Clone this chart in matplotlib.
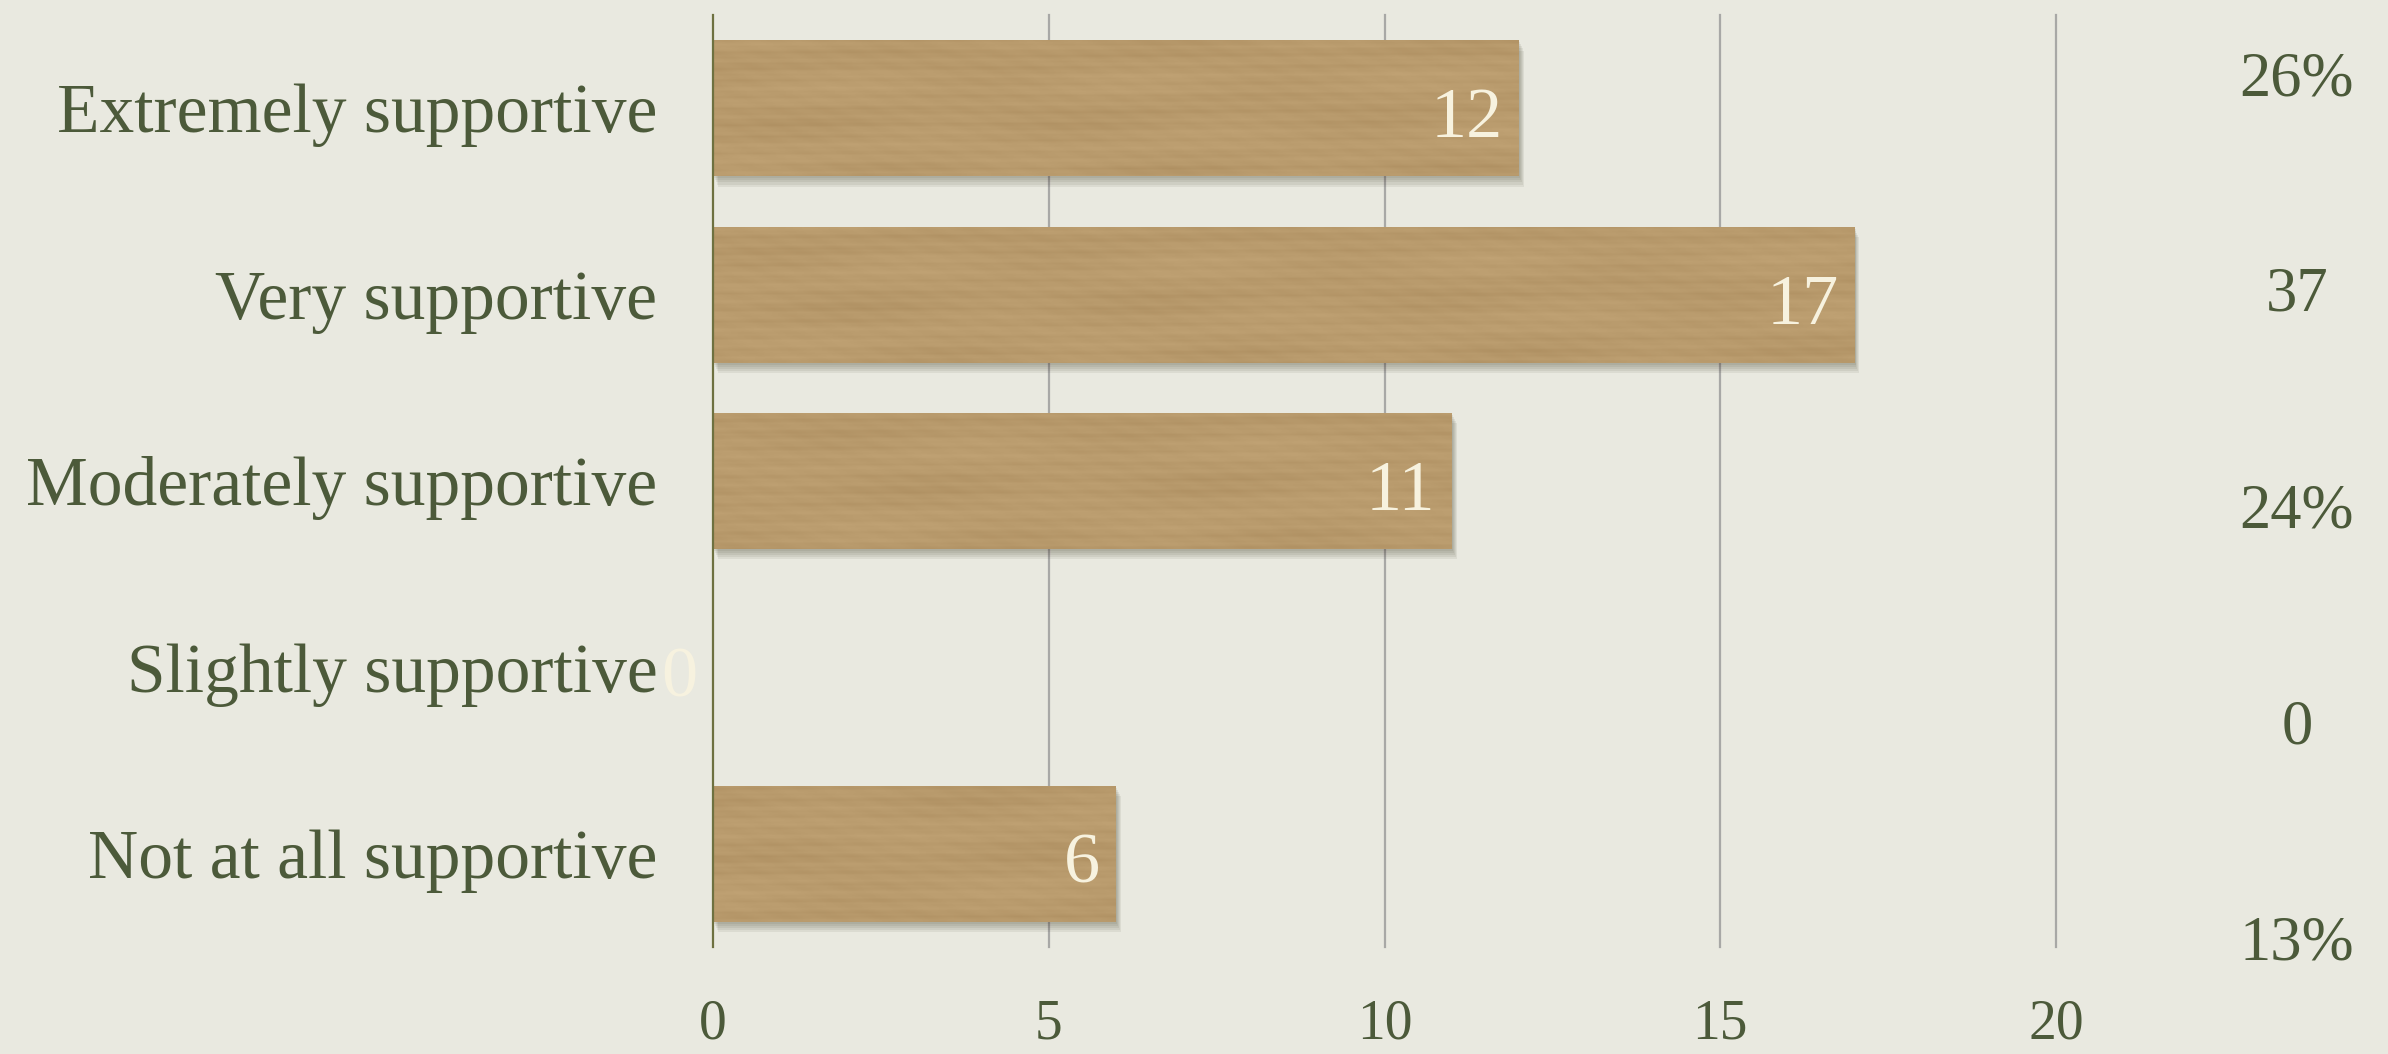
import matplotlib
matplotlib.use("Agg")
import matplotlib.pyplot as plt
import matplotlib.patheffects as pe
from matplotlib.colors import LinearSegmentedColormap
import numpy as np

# Survey responses: how supportive respondents are
categories = ["Extremely supportive", "Very supportive", "Moderately supportive",
              "Slightly supportive", "Not at all supportive"]
counts = [12, 17, 11, 0, 6]
share_labels = ["26%", "37", "24%", "0", "13%"]
x_ticks = [0, 5, 10, 15, 20]

BG = "#e9e9e0"
BAR = "#b99b6d"
TEXT = "#4c5a3a"
CREAM = "#f7f2df"
GRID = "#a8a8a6"
AXIS = "#6e7140"

plt.rcParams["font.family"] = ["Liberation Serif", "DejaVu Serif"]

W, H = 2388, 1054
fig = plt.figure(figsize=(W / 100, H / 100), dpi=100, facecolor=BG)
ax = fig.add_axes([713 / W, 1 - 947 / H, (2056 - 713) / W, (947 - 15) / H])
ax.set_facecolor("none")

y = np.arange(len(categories))
bars = ax.barh(y, counts, height=0.73, color=BAR, zorder=3)

# soft drop shadow under each bar
shadow = [pe.SimplePatchShadow(offset=(0.7 * k, -1.5 * k), shadow_rgbFace="#3e3829",
                               alpha=0.08) for k in (1, 2, 3, 4, 5)]
for b in bars:
    b.set_path_effects(shadow + [pe.Normal()])

# kraft-paper grain laid over the bars
ny, nx = 500, 1400
yy, xx = np.mgrid[0:ny, 0:nx].astype(float)
grain = (0.40 * np.sin(yy * 0.83 + 0.6 * np.sin(xx * 0.011))
         + 0.30 * np.sin(yy * 2.1 + xx * 0.006)
         + 0.35 * np.sin(xx * 0.021 + yy * 0.05) * np.sin(yy * 0.13)
         + 0.30 * np.sin(yy * 0.19 + xx * 0.002)
         + 0.20 * np.sin(xx * 0.13 - yy * 0.7))
kraft = LinearSegmentedColormap.from_list("kraft", ["#af9062", "#b99b6d", "#c1a375"])
for b in bars:
    im = ax.imshow(grain, extent=[0, 20, len(categories) - 0.5, -0.5], aspect="auto",
                   cmap=kraft, interpolation="bilinear", zorder=3.5)
    im.set_clip_path(b)

ax.set_xlim(0, 20)
ax.set_ylim(len(categories) - 0.5, -0.5)
ax.set_xticks(x_ticks)
ax.set_xticklabels([str(v) for v in x_ticks])
ax.set_yticks(y)
ax.set_yticklabels(categories)
ax.tick_params(axis="y", length=0, pad=40, labelsize=50, labelcolor=TEXT)
ax.tick_params(axis="x", length=0, pad=37, labelsize=40, labelcolor=TEXT)

for side in ["top", "right", "bottom"]:
    ax.spines[side].set_visible(False)
ax.spines["left"].set_color(AXIS)
ax.spines["left"].set_linewidth(1.6)
ax.spines["left"].set_zorder(4)

# vertical gridlines at the major ticks (except the zero baseline)
for v in x_ticks[1:]:
    ax.axvline(v, color=GRID, lw=1.6, zorder=1, clip_on=False)

# count labels just inside the bar ends
for i, v in enumerate(counts):
    ax.annotate(str(v), xy=(v, i), xytext=(-11.5, -21), textcoords="offset points",
                ha="right", va="baseline", fontsize=52, color=CREAM, zorder=6)

# share column on the right
ys = np.linspace(80, 944, len(share_labels))
for lab, yc in zip(share_labels, ys):
    fig.text(2297 / W, 1 - yc / H, lab, ha="center", va="center",
             fontsize=45, color=TEXT)

fig.savefig("out.png", dpi=100, facecolor=BG)
